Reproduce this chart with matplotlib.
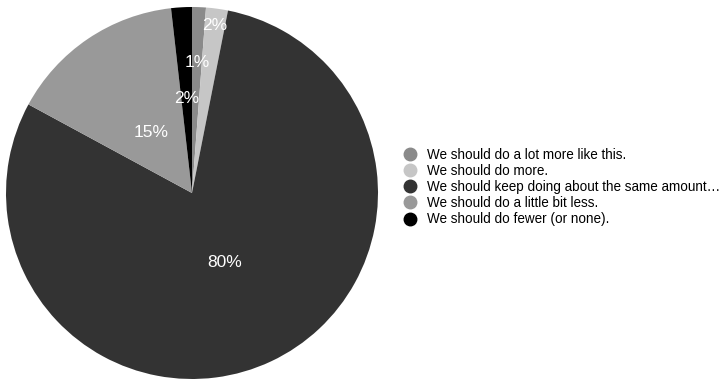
import matplotlib
matplotlib.use("Agg")
import matplotlib.pyplot as plt
from matplotlib.lines import Line2D
import numpy as np

plt.rcParams['font.family'] = ['Liberation Sans', 'DejaVu Sans']

categories = [
    "We should do a lot more like this.",
    "We should do more.",
    "We should keep doing about the same amount\u2026",
    "We should do a little bit less.",
    "We should do fewer (or none).",
]
values = [1.2, 1.9, 79.8, 15.3, 1.8]
colors = ["#8a8a8a", "#c6c6c6", "#333333", "#999999", "#000000"]
label_dist = [0.70, 0.91, 0.41, 0.39, 0.51]

W, H = 726, 379
fig = plt.figure(figsize=(W / 100, H / 100), dpi=100)
cx, cy, r = 192, 193, 186
ax = fig.add_axes([(cx - r) / W, (H - cy - r) / H, 2 * r / W, 2 * r / H])
wedges, _ = ax.pie(values, colors=colors, startangle=90, counterclock=False,
                   radius=1.0, wedgeprops=dict(linewidth=0))
total = sum(values)
for w, v, d in zip(wedges, values, label_dist):
    ang = np.deg2rad((w.theta1 + w.theta2) / 2)
    ax.text(d * np.cos(ang), d * np.sin(ang), f"{round(v / total * 100)}%",
            color="white", ha="center", va="center", fontsize=12.5)
ax.set_xlim(-1, 1)
ax.set_ylim(-1, 1)
ax.set_aspect('equal')
ax.axis('off')

handles = [Line2D([], [], marker='o', linestyle='none', markersize=9,
                  markerfacecolor=c, markeredgecolor=c) for c in colors]
leg = fig.legend(handles, categories, loc='center left',
                 bbox_to_anchor=(403 / W, 1 - 187 / H), frameon=False,
                 fontsize=9.75, handlelength=1.0, handletextpad=0.75,
                 labelspacing=0.16, borderpad=0, borderaxespad=0)

fig.savefig("out.png", dpi=100)
